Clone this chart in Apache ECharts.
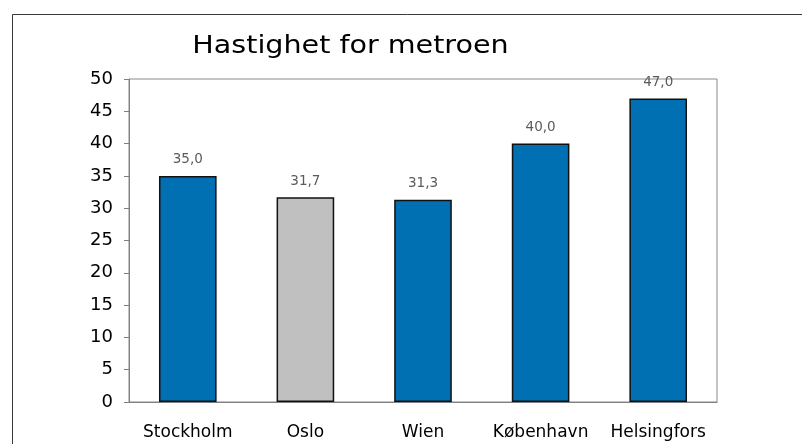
<!DOCTYPE html>
<html>
<head>
<meta charset="utf-8">
<script src="https://cdn.jsdelivr.net/npm/echarts@6/dist/echarts.min.js"></script>
<style>
  html, body { margin: 0; padding: 0; background: #fff; }
  #chart { width: 802px; height: 444px; }
</style>
</head>
<body>
<div id="chart"></div>
<script>
// Metro speeds by city
const cities = ['Stockholm', 'Oslo', 'Wien', 'København', 'Helsingfors'];
const speeds = [35.0, 31.7, 31.3, 40.0, 47.0];
const barColors = ['#0070B2', '#C0C0C0', '#0070B2', '#0070B2', '#0070B2'];
const yTicks = [0, 5, 10, 15, 20, 25, 30, 35, 40, 45, 50];
const titleText = 'Hastighet for metroen';

const chart = echarts.init(document.getElementById('chart'), null, { renderer: 'canvas' });

chart.setOption({
  animation: false,
  graphic: [
    {
      type: 'rect',
      shape: { x: 12.5, y: 14.5, width: 800, height: 440 },
      style: { fill: 'none', stroke: '#3a3a3a', lineWidth: 1 },
      silent: true
    },
    {
      // title, drawn slightly widened
      type: 'text',
      x: 350.5,
      y: 47,
      scaleX: 1.19,
      style: {
        text: titleText,
        fontFamily: 'DejaVu Sans',
        fontSize: 24,
        fill: '#000',
        textAlign: 'center',
        textVerticalAlign: 'middle'
      },
      silent: true
    }
  ],
  grid: {
    left: 129, top: 79, right: 85, bottom: 42,
    show: true, borderColor: '#8a8a8a', borderWidth: 1, backgroundColor: '#fff'
  },
  xAxis: {
    type: 'category',
    data: cities,
    axisLine: { lineStyle: { color: '#808080', width: 1 } },
    axisTick: { show: false },
    axisLabel: {
      interval: 0,
      hideOverlap: false,
      fontFamily: 'DejaVu Sans', fontSize: 17, color: '#000', margin: 22
    }
  },
  yAxis: {
    type: 'value',
    min: yTicks[0],
    max: yTicks[yTicks.length - 1],
    interval: 5,
    splitLine: { show: false },
    axisLine: { show: true, lineStyle: { color: '#808080', width: 1 } },
    axisTick: { show: true, length: 5, lineStyle: { color: '#808080' } },
    axisLabel: { fontFamily: 'DejaVu Sans', fontSize: 18, color: '#000', margin: 16 }
  },
  series: [{
    type: 'bar',
    barWidth: '49%',
    data: speeds.map((v, i) => ({
      value: v,
      itemStyle: { color: barColors[i] }
    })),
    itemStyle: { borderColor: '#111', borderWidth: 1.5 },
    label: {
      show: true,
      position: 'top',
      distance: 9,
      fontFamily: 'DejaVu Sans',
      fontSize: 13.5,
      color: '#5a5a5a',
      formatter: p => p.value.toFixed(1).replace('.', ',')
    }
  }]
});
</script>
</body>
</html>
